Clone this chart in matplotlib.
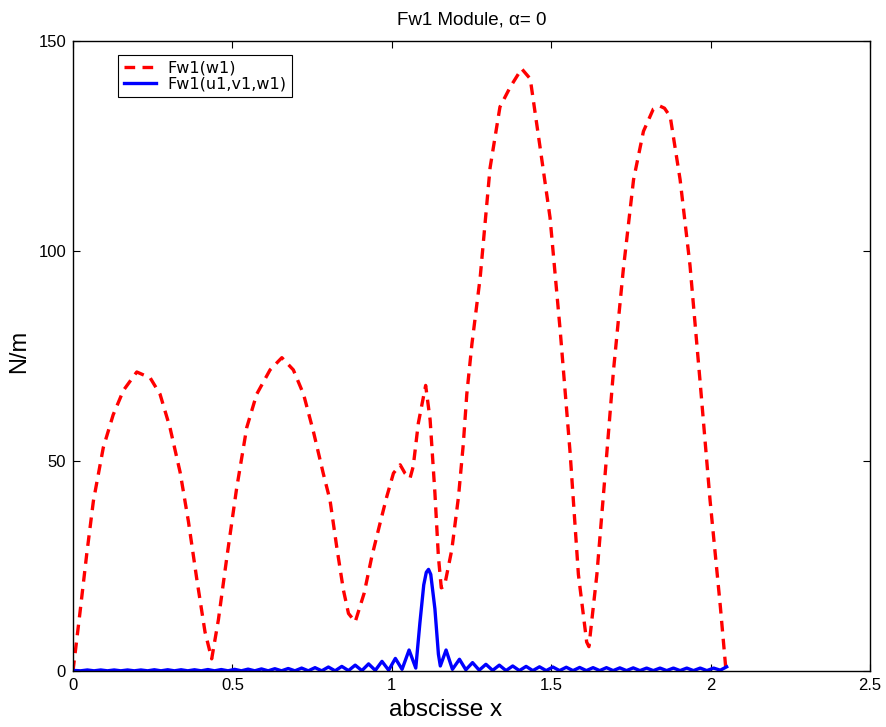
import matplotlib
matplotlib.use("Agg")
import matplotlib.pyplot as plt

# Fw1(w1) -- dashed red curve
red_x = [0.0, 0.022, 0.043, 0.064, 0.095, 0.126, 0.158, 0.2, 0.242, 0.273,
         0.304, 0.336, 0.362, 0.388, 0.414, 0.435, 0.456, 0.482, 0.513, 0.545,
         0.576, 0.618, 0.655, 0.691, 0.723, 0.754, 0.785, 0.806, 0.827, 0.848,
         0.864, 0.885, 0.913, 0.937, 0.963, 0.984, 1.005, 1.026, 1.041, 1.057,
         1.067, 1.083, 1.106, 1.12, 1.135, 1.146, 1.155, 1.165, 1.188, 1.209,
         1.224, 1.235, 1.251, 1.277, 1.308, 1.339, 1.371, 1.407, 1.434, 1.465,
         1.496, 1.528, 1.559, 1.585, 1.611, 1.618, 1.643, 1.669, 1.695, 1.726,
         1.758, 1.789, 1.82, 1.841, 1.855, 1.873, 1.904, 1.935, 1.967, 1.998,
         2.03, 2.048]
red_y = [0, 14, 27.8, 40.5, 53.2, 61, 66.8, 71.2, 69.8, 65.9,
         58, 47.3, 35.6, 22, 9.3, 2.9, 12.2, 26.8, 43.4, 58,
         65.9, 71.7, 74.6, 71.7, 65.9, 57, 47, 40.7, 29.6, 19.3,
         13.7, 11.7, 18.5, 27.2, 35.2, 41.5, 47.1, 49.1, 47.1, 45.9,
         48.7, 59, 68, 59.8, 42.4, 27.2, 19.8, 20.2, 28.9, 41.5,
         54, 65.9, 77.8, 93.7, 119.8, 134.3, 139, 143.4, 141, 124.6,
         108, 81, 52, 23, 6.9, 5.8, 23, 47, 71.5, 95.7,
         117, 128.5, 133.8, 134.5, 134, 132, 117, 96.6, 68.6, 40.6,
         15.5, 0]

# Fw1(u1,v1,w1) -- solid blue curve, ripple peaks and troughs
blue_x = [0.0, 0.024, 0.045, 0.066, 0.087, 0.108, 0.129, 0.15, 0.171, 0.192,
          0.213, 0.234, 0.255, 0.276, 0.297, 0.318, 0.339, 0.36, 0.381, 0.402,
          0.423, 0.444, 0.465, 0.486, 0.507, 0.528, 0.549, 0.57, 0.591, 0.612,
          0.633, 0.654, 0.675, 0.696, 0.717, 0.738, 0.759, 0.78, 0.801, 0.822,
          0.843, 0.864, 0.885, 0.906, 0.927, 0.948, 0.969, 0.99, 1.011, 1.032,
          1.054, 1.075, 1.088, 1.1, 1.108, 1.115, 1.122, 1.135, 1.146, 1.152,
          1.17, 1.19, 1.212, 1.232, 1.253, 1.274, 1.295, 1.316, 1.337, 1.358,
          1.379, 1.4, 1.421, 1.442, 1.463, 1.484, 1.505, 1.526, 1.547, 1.568,
          1.589, 1.61, 1.631, 1.652, 1.673, 1.694, 1.715, 1.736, 1.757, 1.778,
          1.799, 1.82, 1.841, 1.862, 1.883, 1.904, 1.925, 1.946, 1.967, 1.988,
          2.009, 2.03, 2.05]
blue_y = [0.15, 0.05, 0.25, 0.05, 0.25, 0.05, 0.25, 0.05, 0.25, 0.05,
          0.25, 0.05, 0.3, 0.05, 0.3, 0.05, 0.3, 0.05, 0.3, 0.05,
          0.35, 0.05, 0.35, 0.05, 0.4, 0.05, 0.45, 0.05, 0.5, 0.05,
          0.55, 0.05, 0.6, 0.05, 0.7, 0.05, 0.8, 0.05, 0.95, 0.05,
          1.1, 0.1, 1.4, 0.1, 1.7, 0.15, 2.3, 0.2, 3.0, 0.4,
          5.0, 0.7, 11.5, 20.5, 23.5, 24.2, 23, 14.8, 4, 1.2,
          5.0, 0.4, 2.8, 0.3, 2.0, 0.2, 1.6, 0.15, 1.4, 0.1,
          1.2, 0.1, 1.1, 0.1, 1.0, 0.1, 0.95, 0.1, 0.9, 0.1,
          0.85, 0.1, 0.8, 0.1, 0.8, 0.1, 0.75, 0.1, 0.75, 0.1,
          0.7, 0.1, 0.7, 0.1, 0.7, 0.1, 0.7, 0.1, 0.7, 0.1,
          0.7, 0.2, 1.0]

x_ticks = [0, 0.5, 1, 1.5, 2, 2.5]
x_tick_labels = ['0', '0.5', '1', '1.5', '2', '2.5']
y_ticks = [0, 50, 100, 150]

plt.rcParams['font.family'] = ['Liberation Sans', 'DejaVu Sans']

fig = plt.figure(figsize=(8.87, 7.27), dpi=100)
ax = fig.add_axes([0.0823, 0.077, 0.8987, 0.8666])

ax.plot(red_x, red_y, color='red', lw=2.4, ls=(0, (3.2, 2.2)), label='Fw1(w1)')
ax.plot(blue_x, blue_y, color='blue', lw=2.4, label='Fw1(u1,v1,w1)')

ax.set_xlim(0, 2.5)
ax.set_ylim(0, 150)
ax.set_xticks(x_ticks)
ax.set_xticklabels(x_tick_labels)
ax.set_yticks(y_ticks)
ax.tick_params(direction='in', top=True, right=True, length=5, width=0.8,
               labelsize=12, pad=5)
for s in ax.spines.values():
    s.set_linewidth(1.0)

ax.set_title('Fw1 Module, \u03b1= 0', fontsize=13.5, pad=12)
ax.set_xlabel('abscisse x', fontsize=17.5, va='top')
ax.xaxis.set_label_coords(0.467, -0.045)
ax.set_ylabel('N/m', fontsize=17)
ax.yaxis.set_label_coords(-0.054, 0.507)

leg = ax.legend(loc='upper left', bbox_to_anchor=(0.0565, 0.9778),
                prop={'family': ['DejaVu Sans'], 'size': 11.5},
                handlelength=2.0, fancybox=False, framealpha=1, borderaxespad=0,
                borderpad=0.35, labelspacing=0.05, handletextpad=0.75)
leg.get_frame().set_edgecolor('black')
leg.get_frame().set_linewidth(0.8)

fig.savefig('out.png', dpi=100)
